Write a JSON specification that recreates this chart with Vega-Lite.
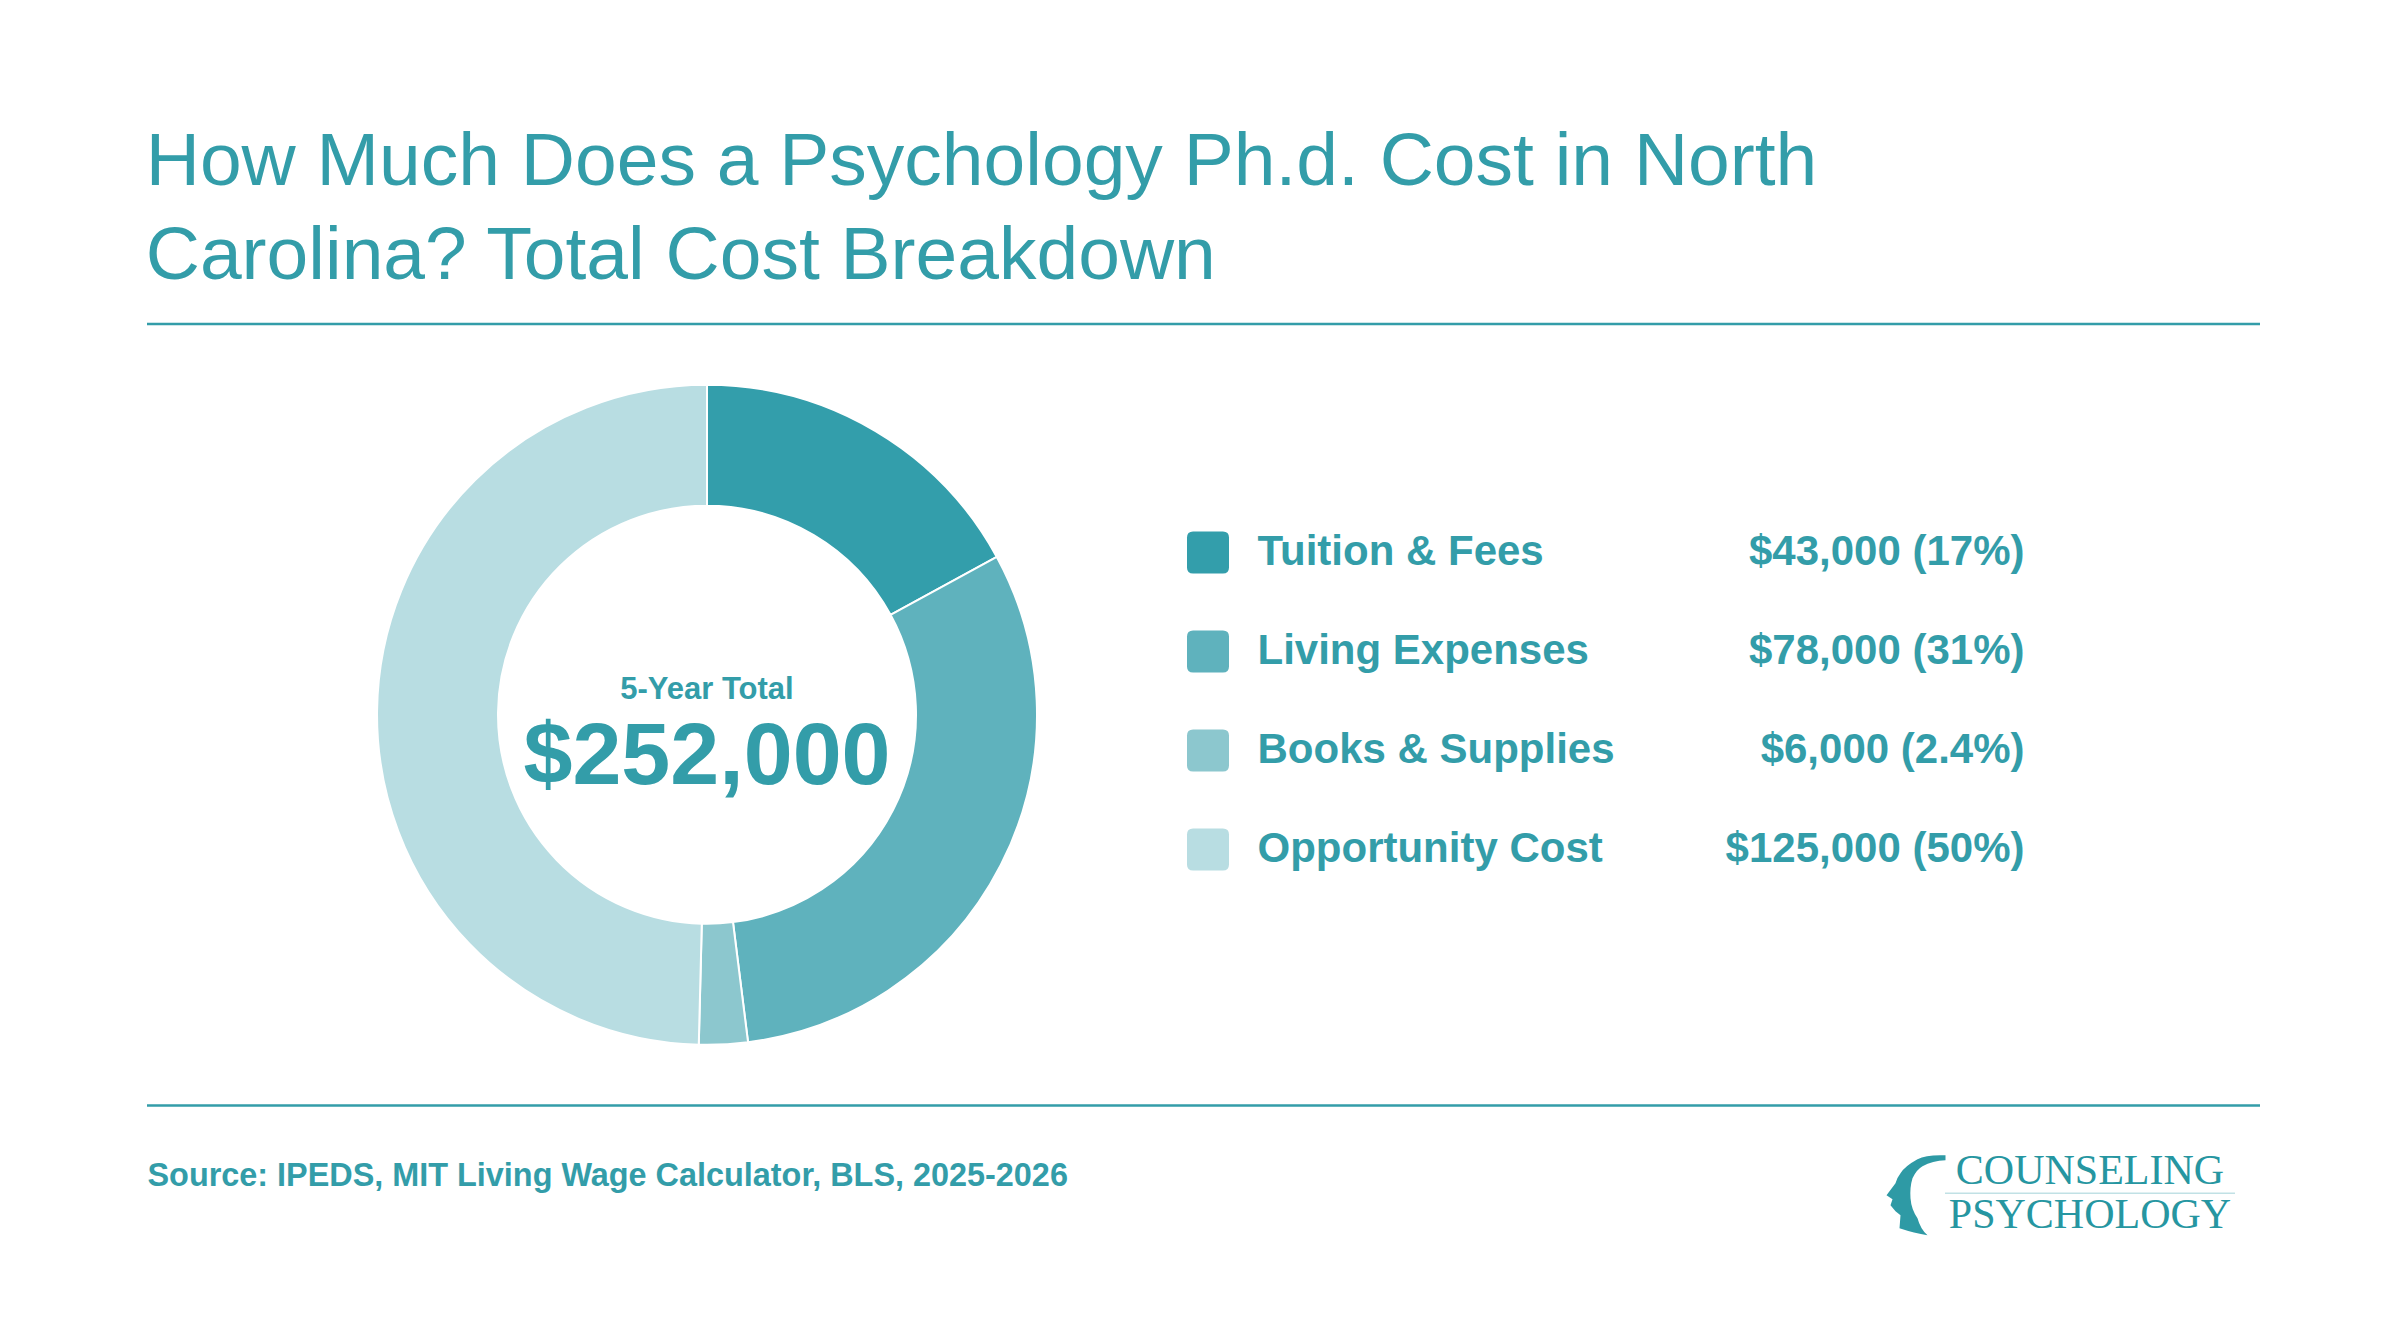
{
  "$schema": "https://vega.github.io/schema/vega-lite/v6.json",
  "background": "white",
  "padding": {"left": 145, "top": 124, "right": 142, "bottom": 20},
  "spacing": 41.75,
  "title": {
    "text": ["How Much Does a Psychology Ph.d. Cost in North", "Carolina? Total Cost Breakdown"],
    "anchor": "start",
    "baseline": "top",
    "font": "Liberation Sans",
    "fontSize": 75,
    "fontWeight": "normal",
    "color": "#339DA9",
    "lineHeight": 94,
    "offset": 28
  },
  "datasets": {
    "costs": [
      {"category": "Tuition & Fees", "amount": 43000, "rank": 1, "display": "$43,000 (17%)"},
      {"category": "Living Expenses", "amount": 78000, "rank": 2, "display": "$78,000 (31%)"},
      {"category": "Books & Supplies", "amount": 6000, "rank": 3, "display": "$6,000 (2.4%)"},
      {"category": "Opportunity Cost", "amount": 125000, "rank": 4, "display": "$125,000 (50%)"}
    ]
  },
  "vconcat": [
    {
      "width": 2113,
      "height": 1,
      "data": {"values": [{}]},
      "mark": {"type": "rule", "color": "#339DA9", "strokeWidth": 2.5},
      "encoding": {"y": {"datum": 1, "type": "quantitative", "axis": null, "scale": {"domain": [0, 1]}}}
    },
    {
      "hconcat": [
        {"width": 230, "height": 694, "data": {"values": []}, "mark": "point", "encoding": {}},
        {
          "width": 660,
          "height": 694,
          "layer": [
            {
              "data": {"name": "costs"},
              "mark": {"type": "arc", "outerRadius": 330, "innerRadius": 209, "stroke": "white", "strokeWidth": 2},
              "encoding": {
                "theta": {"field": "amount", "type": "quantitative", "stack": true},
                "order": {"field": "rank", "type": "quantitative"},
                "color": {
                  "field": "category",
                  "type": "nominal",
                  "scale": {
                    "domain": ["Tuition & Fees", "Living Expenses", "Books & Supplies", "Opportunity Cost"],
                    "range": ["#339EAB", "#5FB2BD", "#8CC7CE", "#B8DDE2"]
                  },
                  "legend": null
                }
              }
            },
            {
              "data": {"values": [{"t": "5-Year Total"}]},
              "mark": {"type": "text", "font": "Liberation Sans", "fontSize": 31, "fontWeight": "bold", "color": "#339DA9", "align": "center", "baseline": "alphabetic", "dy": -16},
              "encoding": {"text": {"field": "t", "type": "nominal"}}
            },
            {
              "data": {"name": "costs"},
              "mark": {"type": "text", "font": "Liberation Sans", "fontSize": 88, "fontWeight": "bold", "color": "#339DA9", "align": "center", "baseline": "alphabetic", "dy": 69},
              "encoding": {"text": {"aggregate": "sum", "field": "amount", "type": "quantitative", "format": "$,.0f"}}
            }
          ]
        },
        {"width": 150, "height": 694, "data": {"values": []}, "mark": "point", "encoding": {}},
        {
          "width": 42,
          "height": 495,
          "data": {"name": "costs"},
          "mark": {"type": "point", "filled": true, "opacity": 1, "size": 1764, "strokeWidth": 0,
            "shape": "M-0.71,-1H0.71Q1,-1,1,-0.71V0.71Q1,1,0.71,1H-0.71Q-1,1,-1,0.71V-0.71Q-1,-1,-0.71,-1Z"},
          "encoding": {
            "y": {"field": "category", "type": "nominal", "axis": null,
              "scale": {"type": "point", "domain": ["Tuition & Fees", "Living Expenses", "Books & Supplies", "Opportunity Cost"], "padding": 1, "align": 0.933}},
            "color": {
              "field": "category",
              "type": "nominal",
              "scale": {
                "domain": ["Tuition & Fees", "Living Expenses", "Books & Supplies", "Opportunity Cost"],
                "range": ["#339EAB", "#5FB2BD", "#8CC7CE", "#B8DDE2"]
              },
              "legend": null
            }
          }
        },
        {"width": 27.5, "height": 495, "data": {"values": []}, "mark": "point", "encoding": {}},
        {
          "width": 1,
          "height": 495,
          "data": {"name": "costs"},
          "mark": {"type": "text", "font": "Liberation Sans", "fontSize": 42, "fontWeight": "bold", "color": "#339DA9", "align": "left", "baseline": "middle"},
          "encoding": {
            "y": {"field": "category", "type": "nominal", "axis": null,
              "scale": {"type": "point", "domain": ["Tuition & Fees", "Living Expenses", "Books & Supplies", "Opportunity Cost"], "padding": 1, "align": 0.933}},
            "text": {"field": "category", "type": "nominal"}
          }
        },
        {"width": 766, "height": 495, "data": {"values": []}, "mark": "point", "encoding": {}},
        {
          "width": 1,
          "height": 495,
          "data": {"name": "costs"},
          "mark": {"type": "text", "font": "Liberation Sans", "fontSize": 42, "fontWeight": "bold", "color": "#339DA9", "align": "right", "baseline": "middle"},
          "encoding": {
            "y": {"field": "category", "type": "nominal", "axis": null,
              "scale": {"type": "point", "domain": ["Tuition & Fees", "Living Expenses", "Books & Supplies", "Opportunity Cost"], "padding": 1, "align": 0.933}},
            "text": {"field": "display", "type": "nominal"}
          }
        }
      ],
      "spacing": 0,
      "bounds": "flush"
    },
    {
      "width": 2113,
      "height": 1,
      "data": {"values": [{}]},
      "mark": {"type": "rule", "color": "#339DA9", "strokeWidth": 2.5},
      "encoding": {"y": {"datum": 1, "type": "quantitative", "axis": null, "scale": {"domain": [0, 1]}}}
    },
    {
      "hconcat": [
        {
          "width": 1,
          "height": 1,
          "data": {"values": [{"s": "Source: IPEDS, MIT Living Wage Calculator, BLS, 2025-2026"}]},
          "mark": {"type": "text", "font": "Liberation Sans", "fontSize": 32.4, "fontWeight": "bold", "color": "#339DA9", "align": "left", "baseline": "top", "dy": -8},
          "encoding": {"text": {"field": "s", "type": "nominal"}}
        },
        {"width": 1736, "height": 1, "data": {"values": []}, "mark": "point", "encoding": {}},
        {
          "width": 61,
          "height": 56,
          "data": {"values": [{}]},
          "mark": {"type": "point", "filled": true, "opacity": 1, "size": 6400, "strokeWidth": 0, "color": "#2E9AA5",
            "shape": "M0.775,-1Q0.3,-1.02,0.075,-0.9Q-0.25,-0.72,-0.35,-0.55Q-0.45,-0.42,-0.475,-0.3L-0.7,0L-0.55,0.1L-0.6,0.25L-0.475,0.4L-0.35,0.5L-0.375,0.825Q0,0.95,0.325,1Q0.15,0.85,0.075,0.575Q-0.08,0.35,-0.1,0.075Q-0.12,-0.2,-0.05,-0.425Q0.05,-0.64,0.2,-0.725Q0.45,-0.86,0.775,-0.875Z"},
          "encoding": {}
        },
        {
          "width": 290,
          "height": 52,
          "layer": [
            {
              "data": {"values": [{}]},
              "mark": {"type": "rule", "color": "#339DA9", "opacity": 0.3, "strokeWidth": 1.5},
              "encoding": {"y": {"datum": "divider", "type": "nominal", "axis": null,
                "scale": {"type": "point", "domain": ["COUNSELING", "divider", "PSYCHOLOGY"], "padding": 0.1818}}}
            },
            {
              "data": {"values": [{"w": "COUNSELING"}, {"w": "PSYCHOLOGY"}]},
              "mark": {"type": "text", "font": "Liberation Serif", "fontSize": 42, "color": "#2696A1", "align": "center", "baseline": "middle"},
              "encoding": {
                "y": {"field": "w", "type": "nominal", "axis": null,
                  "scale": {"type": "point", "domain": ["COUNSELING", "divider", "PSYCHOLOGY"], "padding": 0.1818}},
                "text": {"field": "w", "type": "nominal"}
              }
            }
          ]
        }
      ],
      "spacing": 0,
      "bounds": "flush"
    }
  ],
  "config": {
    "view": {"stroke": null},
    "font": "Liberation Sans"
  }
}
